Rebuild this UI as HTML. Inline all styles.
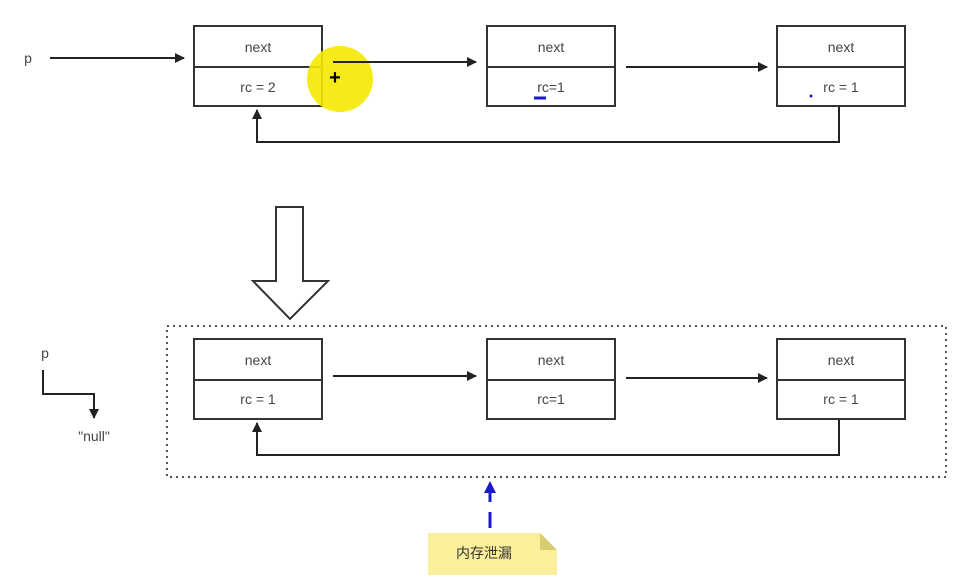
<!DOCTYPE html>
<html><head><meta charset="utf-8"><style>
html,body{margin:0;padding:0;background:#fff;}
svg{display:block;}
text{font-family:"Liberation Sans","Noto Sans CJK SC",sans-serif;fill:#444;font-size:14px;text-anchor:middle;}
</style></head><body>
<svg width="971" height="587" viewBox="0 0 971 587" xmlns="http://www.w3.org/2000/svg">
<defs>
<marker id="a" markerWidth="10" markerHeight="10" refX="9" refY="5" orient="auto" markerUnits="userSpaceOnUse" viewBox="0 0 10 10"><path d="M0,0 L10,5 L0,10 z" fill="#222"/></marker>
<marker id="ab" markerWidth="12" markerHeight="16" refX="11" refY="6" orient="auto" markerUnits="userSpaceOnUse" viewBox="0 0 12 12"><path d="M0,0 L12,6 L0,12 z" fill="#1a1acc"/></marker>
</defs>
<g stroke="#333" stroke-width="2" fill="none">
<rect x="194" y="26" width="128" height="80"/><line x1="194" y1="67" x2="322" y2="67"/>
<rect x="487" y="26" width="128" height="80"/><line x1="487" y1="67" x2="615" y2="67"/>
<rect x="777" y="26" width="128" height="80"/><line x1="777" y1="67" x2="905" y2="67"/>
<rect x="194" y="339" width="128" height="80"/><line x1="194" y1="380" x2="322" y2="380"/>
<rect x="487" y="339" width="128" height="80"/><line x1="487" y1="380" x2="615" y2="380"/>
<rect x="777" y="339" width="128" height="80"/><line x1="777" y1="380" x2="905" y2="380"/>
</g>
<circle cx="340" cy="79" r="33" fill="#f5e800" opacity="0.9"/>
<g stroke="#222" stroke-width="2" fill="none">
<line x1="50" y1="58" x2="184" y2="58" marker-end="url(#a)"/>
<line x1="333" y1="62" x2="476" y2="62" marker-end="url(#a)"/>
<line x1="626" y1="67" x2="767" y2="67" marker-end="url(#a)"/>
<polyline points="839,107 839,142 257,142 257,110" marker-end="url(#a)"/>
<line x1="333" y1="376" x2="476" y2="376" marker-end="url(#a)"/>
<line x1="626" y1="378" x2="767" y2="378" marker-end="url(#a)"/>
<polyline points="839,420 839,455 257,455 257,423" marker-end="url(#a)"/>
<polyline points="43,370 43,394 94,394 94,418" marker-end="url(#a)"/>
</g>
<path d="M276,207 L303,207 L303,281 L328,281 L290,319 L253,281 L276,281 Z" fill="#fff" stroke="#333" stroke-width="2"/>
<rect x="167" y="326" width="779" height="151" fill="none" stroke="#555" stroke-width="2" stroke-dasharray="2,4"/>
<line x1="490" y1="528" x2="490" y2="482" stroke="#1a1acc" stroke-width="3" stroke-dasharray="16,10" marker-end="url(#ab)"/>
<path d="M428,533 L540,533 L557,550 L557,575 L428,575 Z" fill="#faef9a"/>
<path d="M540,533 L557,550 L540,550 Z" fill="#d8cc70"/>
<text x="484" y="558" style="fill:#333">内存泄漏</text>
<text x="28" y="63" text-anchor="start">p</text>
<text x="335" y="84" style="fill:#000;font-size:20px;font-weight:bold">+</text>
<text x="258" y="52">next</text><text x="258" y="92">rc = 2</text>
<text x="551" y="52">next</text><text x="551" y="92">rc=1</text>
<text x="841" y="52">next</text><text x="841" y="92">rc = 1</text>
<line x1="534" y1="98" x2="546" y2="98" stroke="#1a1acc" stroke-width="3"/>
<circle cx="811" cy="96" r="1.5" fill="#1a1acc"/>
<text x="45" y="358">p</text>
<text x="94" y="441">"null"</text>
<text x="258" y="365">next</text><text x="258" y="404">rc = 1</text>
<text x="551" y="365">next</text><text x="551" y="404">rc=1</text>
<text x="841" y="365">next</text><text x="841" y="404">rc = 1</text>
</svg>
</body></html>
